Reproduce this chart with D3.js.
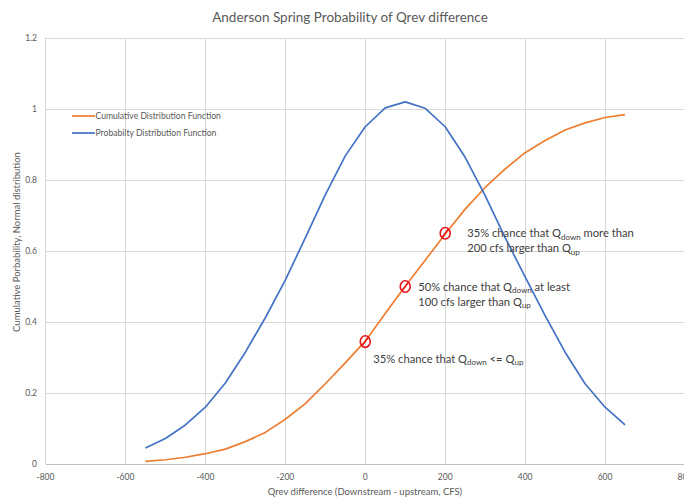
<!DOCTYPE html>
<html><head><meta charset="utf-8">
<script src="https://cdn.jsdelivr.net/npm/d3@7"></script>
<style>html,body{margin:0;padding:0;background:#fff;overflow:hidden}</style>
</head><body>
<svg id="c" width="684" height="499"></svg>
<script>
const xValues = [-550,-500,-450,-400,-350,-300,-250,-200,-150,-100,-50,0,50,100,150,200,250,300,350,400,450,500,550,600,650];
const cdfValues = [0.0075,0.012,0.019,0.029,0.042,0.063,0.089,0.126,0.170,0.226,0.285,0.346,0.424,0.501,0.574,0.648,0.718,0.779,0.831,0.877,0.911,0.941,0.961,0.976,0.984];
const pdfValues = [0.045,0.072,0.110,0.160,0.228,0.315,0.412,0.518,0.637,0.758,0.868,0.950,1.003,1.020,1.002,0.950,0.864,0.756,0.638,0.527,0.418,0.315,0.226,0.160,0.110];
const xTicks = [-800,-600,-400,-200,0,200,400,600,800];
const yTicks = [0,0.2,0.4,0.6,0.8,1,1.2];
const markerX = [0,100,200];
const markerY = [0.345,0.5,0.65];
const seriesNames = ["Cumulative Distribution Function","Probabilty Distribution Function"];
const colors = ["#ED7D31","#4472C4"];
const notes = [
  {x:0,   y:0.345, lines:[["35% chance that Q","down"," <= Q","up",""]]},
  {x:100, y:0.5,   lines:[["50% chance that Q","down"," at least"],["100 cfs larger than Q","up",""]]},
  {x:200, y:0.65,  lines:[["35% chance that Q","down"," more than"],["200 cfs larger than Q","up",""]]}
];

const svg = d3.select("#c");
const font = "Lato, 'Open Sans', sans-serif";
const x = d3.scaleLinear().domain([-800,800]).range([45.5,685]);
const y = d3.scaleLinear().domain([0,1.2]).range([464,38]);

// gridlines
svg.append("g").selectAll("line").data(yTicks.filter(d=>d>0)).join("line")
  .attr("x1",x(-800)).attr("x2",x(800)).attr("y1",d=>y(d)).attr("y2",d=>y(d))
  .attr("stroke","#d9d9d9").attr("stroke-width",1).attr("shape-rendering","crispEdges");
svg.append("g").selectAll("line").data(xTicks).join("line")
  .attr("x1",d=>x(d)).attr("x2",d=>x(d)).attr("y1",y(0)).attr("y2",y(1.2))
  .attr("stroke","#d9d9d9").attr("stroke-width",1).attr("shape-rendering","crispEdges");
svg.append("line").attr("x1",x(-800)).attr("x2",x(800)).attr("y1",y(0)).attr("y2",y(0))
  .attr("stroke","#bfbfbf").attr("stroke-width",1).attr("shape-rendering","crispEdges");

// tick labels
svg.append("g").selectAll("text").data(yTicks).join("text")
  .attr("x",37).attr("y",d=>y(d)).attr("dy","0.35em").attr("text-anchor","end")
  .attr("font-family",font).attr("font-size",8.5).attr("fill","#595959")
  .text(d=>d3.format("")(d));
svg.append("g").selectAll("text").data(xTicks).join("text")
  .attr("x",d=>x(d)).attr("y",477).attr("dy","0.35em").attr("text-anchor","middle")
  .attr("font-family",font).attr("font-size",8.5).attr("fill","#595959")
  .text(d=>d);

// titles
svg.append("text").attr("x",350).attr("y",17).attr("dy","0.35em").attr("text-anchor","middle")
  .attr("font-family",font).attr("font-size",13.5).attr("fill","#595959")
  .text("Anderson Spring Probability of Qrev difference");
svg.append("text").attr("x",365).attr("y",492).attr("dy","0.35em").attr("text-anchor","middle")
  .attr("font-family",font).attr("font-size",9.5).attr("fill","#595959")
  .text("Qrev difference (Downstream - upstream, CFS)");
svg.append("text").attr("transform","translate(17,242) rotate(-90)").attr("dy","0.35em").attr("text-anchor","middle")
  .attr("font-family",font).attr("font-size",9.5).attr("fill","#595959")
  .text("Cumulative Porbability, Normal distribution");

// lines
const line = d3.line().x((d,i)=>x(xValues[i])).y(d=>y(d));
[cdfValues,pdfValues].forEach((vals,k)=>{
  svg.append("path").datum(vals).attr("d",line).attr("fill","none")
    .attr("stroke",colors[k]).attr("stroke-width",1.7).attr("stroke-linejoin","round");
});

// legend
seriesNames.forEach((n,i)=>{
  const ly = 116 + i*17;
  svg.append("line").attr("x1",72).attr("x2",95).attr("y1",ly).attr("y2",ly)
    .attr("stroke",colors[i]).attr("stroke-width",1.7);
  svg.append("text").attr("x",95.5).attr("y",ly).attr("dy","0.35em")
    .attr("font-family",font).attr("font-size",8.6).attr("fill","#595959").text(n);
});

// markers
markerX.forEach((mx,i)=>{
  const cx = x(mx), cy = y(markerY[i]);
  svg.append("ellipse").attr("cx",cx).attr("cy",cy).attr("rx",5).attr("ry",5.8)
    .attr("fill","none").attr("stroke","#e8141c").attr("stroke-width",1.6);
  svg.append("line").attr("x1",cx-3).attr("y1",cy+4).attr("x2",cx+3).attr("y2",cy-4)
    .attr("stroke","#e8141c").attr("stroke-width",1.4);
});

// annotations
const noteOffsets = [[8,17],[13,0],[22,0]];
notes.forEach((n,i)=>{
  const t = svg.append("text").attr("font-family",font).attr("font-size",11.2).attr("fill","#404040");
  const bx = x(n.x)+noteOffsets[i][0], by = y(n.y)+noteOffsets[i][1];
  n.lines.forEach((parts,li)=>{
    const ly = by + li*15 + 4;
    parts.forEach((p,pi)=>{
      const ts = t.append("tspan").text(p);
      if(pi===0){ ts.attr("x",bx).attr("y",ly); }
      if(pi%2===1){ ts.attr("font-size",8).attr("dy",2.5); }
      else if(pi>0){ ts.attr("dy",-2.5); }
    });
  });
});
</script>
</body></html>
